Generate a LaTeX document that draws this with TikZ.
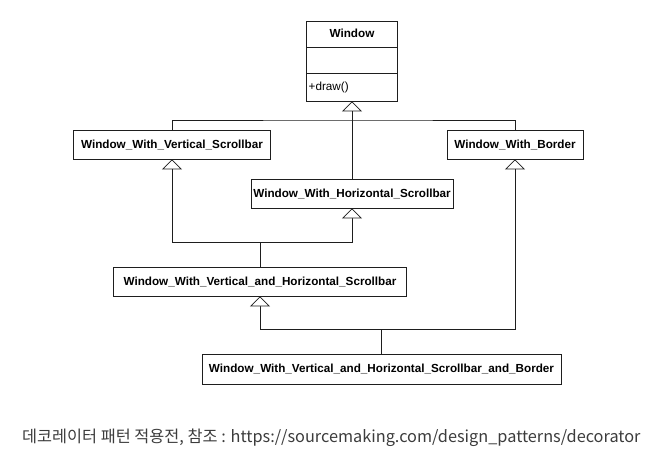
\documentclass[tikz,border=0pt]{standalone}
\usepackage{fontspec}
\setmainfont{Liberation Sans}
\newfontfamily\cjk{Noto Sans CJK KR}
\usetikzlibrary{arrows.meta}
\definecolor{capgray}{RGB}{60,60,60}
\definecolor{linegray}{RGB}{30,30,30}
\begin{document}
\begin{tikzpicture}[x=1pt,y=-1pt,
  cls/.style={draw=linegray, line width=0.7pt, fill=white, inner sep=0pt,
    font=\bfseries\fontsize{11.7}{14}\selectfont, minimum height=#1},
  cls/.default=28pt,
  inh/.style={draw=linegray, line width=0.7pt,
    -{Triangle[open, fill=white, width=20pt, length=10pt]}},
  conn/.style={draw=linegray, line width=0.7pt}]
\useasboundingbox (0,0) rectangle (671,457);
% Window class
\node[cls=80pt, minimum width=91pt] (win) at (352,61) {};
\node[font=\bfseries\fontsize{11.7}{14}\selectfont, inner sep=0pt] (wt) at (352,33) {Window};
\draw[conn] (win.west |- 0,47) -- (win.east |- 0,47);
\draw[conn] (win.west |- 0,73) -- (win.east |- 0,73);
\node[font=\fontsize{11.7}{14}\selectfont, inner sep=0pt, anchor=west] (wd) at (308.5,87) {+draw()};
% other classes
\node[cls=29pt, minimum width=197pt] (vs) at (172,144.5) {Window\_With\_Vertical\_Scrollbar};
\node[cls=29pt, minimum width=202pt] (hs) at (352,193.5) {Window\_With\_Horizontal\_Scrollbar};
\node[cls=29pt, minimum width=136pt] (bd) at (515,144.5) {Window\_With\_Border};
\node[cls=29pt, minimum width=293pt] (vhs) at (260,281.5) {Window\_With\_Vertical\_and\_Horizontal\_Scrollbar};
\node[cls=30pt, minimum width=359pt] (vhsb) at (381.5,369) {Window\_With\_Vertical\_and\_Horizontal\_Scrollbar\_and\_Border};
% junctions
\coordinate (jw) at (352,120);
\coordinate (j2) at (260,242);
\coordinate (j3) at (381.5,329);
% connectors
\draw[inh] (jw) -- (win.south);
\draw[conn] (vs.north) |- (jw) -| (bd.north);
\draw[conn] (hs.north) -- (jw);
\draw[inh] (vhs.north) -- (j2) -| (vs.south);
\draw[inh] (j2) -| (hs.south);
\draw[inh] (vhsb.north) -- (j3) -| (vhs.south);
\draw[inh] (j3) -| (bd.south);
% caption
\node[font=\cjk\fontsize{16.3}{19}\selectfont, text=capgray, anchor=west, inner sep=0pt] (cap) at (22,438) {데코레이터 패턴 적용전, 참조 : https://sourcemaking.com/design\_patterns/decorator};
\end{tikzpicture}
\end{document}
